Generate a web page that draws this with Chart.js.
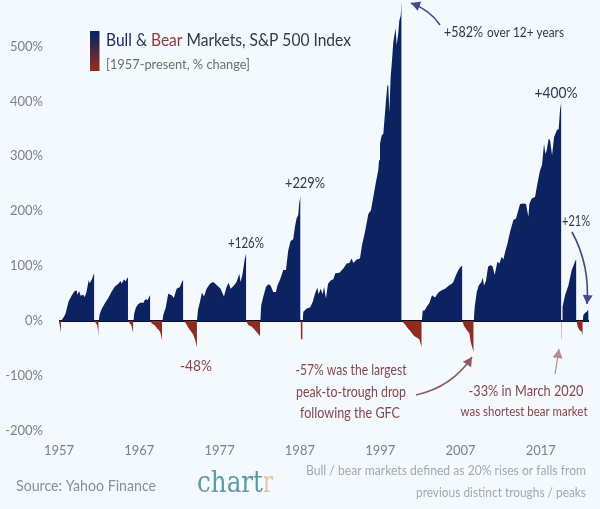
<!DOCTYPE html>
<html>
<head>
<meta charset="utf-8">
<title>Bull & Bear Markets</title>
<script src="https://cdn.jsdelivr.net/npm/chart.js@4/dist/chart.umd.min.js"></script>
<style>
  html, body { margin: 0; padding: 0; background: #f3f9fd; }
  #wrap { width: 600px; height: 509px; }
</style>
</head>
<body>
<div id="wrap"><canvas id="chart" width="600" height="509"></canvas></div>
<script>
// values, one inner list per bull / bear run
const bullYears = [
  [1957.25,1957.5,1957.8,1958.2,1958.6,1958.9,1959.2,1959.3,1959.5,1959.7,1960.0,1960.2,1960.4,1960.7,1960.8,1961.1,1961.3,1961.4],
  [1961.94,1962.06,1962.31,1962.73,1963.14,1963.56,1963.97,1964.39,1964.68,1964.8,1965.09,1965.3,1965.5,1965.59],
  [1966.25,1966.38,1966.58,1966.88,1967.2,1967.5,1967.7,1967.9,1968.04,1968.25,1968.37],
  [1969.86,1970,1970.28,1970.6,1971.03,1971.3,1971.65,1972.06,1972.35,1972.48],
  [1974.18,1974.3,1974.55,1974.8,1975.05,1975.38,1975.8,1976.21,1976.7,1977.12,1977.54,1977.87,1978.12,1978.37,1978.78,1979.11,1979.45,1979.61,1979.86,1980.11,1980.32],
  [1982.06,1982.18,1982.43,1982.77,1983.06,1983.35,1983.68,1984.01,1984.18,1984.59,1984.92,1985.26,1985.55,1985.84,1986.17,1986.38,1986.58,1986.79,1986.91,1987.08],
  [1987.34,1987.43,1987.84,1988.26,1988.59,1988.88,1989.17,1989.33,1989.58,1989.83,1990,1990.25,1990.5,1990.83,1991.16,1991.41,1991.91,1992.41,1992.82,1993.15,1993.44,1993.65,1994.07,1994.48,1994.73,1995.1,1995.52,1995.85,1996.14,1996.47,1996.76,1996.85,1996.97,1997.18,1997.39,1997.59,1997.72,1997.89,1998.01,1998.13,1998.3,1998.47,1998.63,1998.92,1999.05,1999.25,1999.38,1999.55,1999.67],
  [2002.17,2002.29,2002.54,2002.79,2003.12,2003.45,2003.83,2004.24,2004.66,2005.07,2005.49,2005.9,2006.11,2006.44,2006.73,2007.02,2007.23],
  [2008.64,2008.77,2009.02,2009.27,2009.6,2009.76,2009.93,2010.18,2010.43,2010.76,2011.01,2011.26,2011.59,2011.84,2012.13,2012.34,2012.55,2012.84,2013.17,2013.58,2013.91,2014.2,2014.41,2014.83,2015.16,2015.45,2015.57,2015.86,2016.28,2016.57,2016.9,2017.15,2017.4,2017.57,2017.73,2017.98,2018.15,2018.4,2018.65,2018.98,2019.23,2019.39,2019.56],
  [2019.64,2019.68,2019.73,2020.02,2020.43,2020.85,2021.26,2021.43],
  [2022.22,2022.3,2022.5,2022.72,2022.92,2022.96]
];
const bullValues = [
  [0,5,13,36,47,54,56,48,55,46,48,44,51,75,69,76,85,87],
  [0,12,22,33,42,54,63,68,73,68,76,72,79,80],
  [0,15,25,31,34,33,39,40,38,45,48],
  [0,12,24,50,47,42,59,62,73,75],
  [0,20,35,52,45,59,68,71,65,59,45,62,70,59,65,71,86,71,86,111,125],
  [0,29,44,62,67,65,53,53,64,78,93,93,129,146,149,172,187,193,214,229],
  [0,17,23,25,35,50,61,49,59,49,62,41,68,74,76,87,88,96,105,106,114,106,112,114,138,162,195,202,226,253,275,293,323,338,341,378,402,429,429,380,444,475,508,533,502,524,547,556,582],
  [0,19,20,26,33,47,43,52,56,59,64,68,71,84,93,99,101],
  [0,26,53,65,71,79,65,74,99,102,99,84,108,105,117,112,126,141,162,184,187,202,213,214,213,190,213,223,226,250,274,284,323,304,311,332,329,302,335,347,350,384,400],
  [0,17,26,47,65,93,108,114],
  [0,11,15,17,21,21]
];
const bearYears = [
  [1957,1957.1,1957.25],
  [1961.4,1961.6,1961.75,1961.85,1961.94],
  [1965.59,1965.8,1966,1966.1,1966.2,1966.25],
  [1968.37,1968.6,1968.95,1969.2,1969.45,1969.65,1969.86],
  [1972.48,1972.8,1973.1,1973.4,1973.7,1973.97,1974.18],
  [1980.32,1980.57,1980.98,1981.4,1981.69,1982.06],
  [1987.08,1987.12,1987.34],
  [1999.67,2000.09,2000.38,2000.79,2001.21,2001.54,2001.87,2002.17],
  [2007.23,2007.44,2007.77,2008.1,2008.27,2008.64],
  [2019.56,2019.6,2019.64],
  [2021.43,2021.59,2021.8,2022.05,2022.22]
];
const bearValues = [
  [0,-8,-21],
  [0,-4,-7,-16,-29],
  [0,-4,-7,-13,-20,-22],
  [0,-5,-8,-13,-16,-22,-37],
  [0,-4,-12,-18,-24,-35,-48],
  [0,-7,-10,-16,-21,-28],
  [0,-33,-33],
  [0,-6,-12,-19,-27,-30,-33,-48],
  [0,-9,-16,-22,-38,-57],
  [0,-33,-33],
  [0,-10,-16,-19,-25]
];
const baselineYears = [1957, 2023];
const baselineValues = [0, 0];
const xTicks = [1957, 1967, 1977, 1987, 1997, 2007, 2017];
const yTicks = [-200, -100, 0, 100, 200, 300, 400, 500];

const NAVY = '#0d2361';
const RED = '#8e2c20';
const INK = '#2b3a4f';
const ROSE = '#85474c';
const GREY = '#7d8286';
const FONT = 'Lato, sans-serif';

function toPoints(xs, ys) {
  return xs.map((x, i) => ({ x: x, y: ys[i] }));
}

function area(xs, ys, color) {
  return { data: toPoints(xs, ys), fill: 'origin', backgroundColor: color, borderWidth: 0, pointRadius: 0, tension: 0 };
}

const datasets = [];
bullYears.forEach((xs, i) => datasets.push(area(xs, bullValues[i], NAVY)));
bearYears.forEach((xs, i) => datasets.push(area(xs, bearValues[i], RED)));
datasets.push({ data: toPoints(baselineYears, baselineValues), borderColor: '#0b0f1e', borderWidth: 2, pointRadius: 0, fill: false });

// maxW squeezes Lato down to the narrower set width of the original
function text(ctx, str, x, y, color, size, align, maxW) {
  ctx.font = size + 'px ' + FONT;
  ctx.fillStyle = color;
  ctx.textAlign = align || 'left';
  ctx.textBaseline = 'middle';
  if (maxW) ctx.fillText(str, x, y, maxW);
  else ctx.fillText(str, x, y);
}

// left-aligned pieces written one after the other
function runs(ctx, parts, x, y, squeeze) {
  parts.forEach(p => {
    ctx.font = p[2] + 'px ' + FONT;
    const w = ctx.measureText(p[0]).width * squeeze;
    text(ctx, p[0], x, y, p[1], p[2], 'left', w);
    x += w;
  });
}

function arrow(ctx, x0, y0, cx, cy, x1, y1, color, width) {
  ctx.strokeStyle = color;
  ctx.fillStyle = color;
  ctx.lineWidth = width;
  ctx.beginPath();
  ctx.moveTo(x0, y0);
  ctx.quadraticCurveTo(cx, cy, x1, y1);
  ctx.stroke();
  const a = Math.atan2(y1 - cy, x1 - cx);
  const len = 9, half = 5;
  ctx.beginPath();
  ctx.moveTo(x1, y1);
  ctx.lineTo(x1 - len * Math.cos(a) - half * Math.sin(a), y1 - len * Math.sin(a) + half * Math.cos(a));
  ctx.lineTo(x1 - len * Math.cos(a) + half * Math.sin(a), y1 - len * Math.sin(a) - half * Math.cos(a));
  ctx.closePath();
  ctx.fill();
}

const annotations = {
  id: 'annotations',
  afterDraw(chart) {
    const ctx = chart.ctx;
    ctx.save();

    // legend swatch + heading
    const g = ctx.createLinearGradient(0, 31, 0, 71);
    g.addColorStop(0.1, NAVY);
    g.addColorStop(0.9, RED);
    ctx.fillStyle = g;
    ctx.fillRect(90, 31, 9.5, 40);
    runs(ctx, [['Bull', '#1d2a66', 17], [' & ', INK, 17], ['Bear', '#8e3a3c', 17], [' Markets, S&P 500 Index', '#303a48', 17]], 106, 41, 0.915);
    text(ctx, '[1957-present, % change]', 106, 64, '#6f6d70', 14, 'left', 144);

    // peak labels
    text(ctx, '+582%', 444, 32, INK, 15, 'left', 39);
    text(ctx, 'over 12+ years', 487, 33, INK, 13.5, 'left', 77);
    text(ctx, '+400%', 556, 93, INK, 15, 'center', 43);
    text(ctx, '+229%', 305, 183, INK, 15, 'center', 40);
    text(ctx, '+126%', 246, 243, INK, 15, 'center', 36);
    text(ctx, '+21%', 576, 221, INK, 15, 'center', 28);

    // bear notes
    text(ctx, '-48%', 196, 366, ROSE, 15, 'center', 32);
    text(ctx, '-57% was the largest', 351, 370, ROSE, 15, 'center', 111);
    text(ctx, 'peak-to-trough drop', 351, 392, ROSE, 15, 'center', 110);
    text(ctx, 'following the GFC', 350, 413, ROSE, 15, 'center', 100);
    text(ctx, '-33% in March 2020', 526, 391, ROSE, 15, 'center', 115);
    text(ctx, 'was shortest bear market', 524, 412, ROSE, 13.5, 'center', 127);

    arrow(ctx, 440, 25, 430, 10, 411, 3, '#3f4a86', 1.6);
    arrow(ctx, 572, 232, 590, 265, 587, 304, '#3f4a86', 1.6);
    arrow(ctx, 416, 395, 452, 387, 472, 357, '#8e5a5e', 1.6);
    arrow(ctx, 555, 374, 557, 362, 559, 349, '#b08e8e', 1.2);

    // footer
    text(ctx, 'Source: Yahoo Finance', 16, 486, '#8a9094', 15, 'left', 140);
    text(ctx, 'Bull / bear markets defined as 20% rises or falls from', 586, 470, '#a4a9ad', 14, 'right', 280);
    text(ctx, 'previous distinct troughs / peaks', 586, 492, '#a4a9ad', 14, 'right', 170);
    ctx.font = '30px "DejaVu Serif", serif';
    ctx.textAlign = 'left';
    ctx.textBaseline = 'alphabetic';
    const chartW = 66;
    ctx.fillStyle = '#5f9aa9';
    ctx.fillText('chart', 197, 492, chartW);
    ctx.fillStyle = '#e2c7a0';
    ctx.fillText('r', 197 + chartW, 492, 10);

    ctx.restore();
  }
};

new Chart(document.getElementById('chart').getContext('2d'), {
  type: 'line',
  data: { datasets: datasets },
  plugins: [annotations],
  options: {
    responsive: false,
    animation: false,
    layout: { padding: { top: 0, right: 11, bottom: 0, left: 0 } },
    plugins: { legend: { display: false }, tooltip: { enabled: false } },
    scales: {
      x: {
        type: 'linear',
        min: 1957,
        max: 2023,
        afterBuildTicks: axis => { axis.ticks = xTicks.map(v => ({ value: v })); },
        afterFit: axis => { axis.height = 78; axis.paddingLeft = 0; axis.paddingRight = 0; },
        grid: { display: false, drawTicks: false },
        border: { display: false },
        ticks: {
          padding: 12,
          maxRotation: 0,
          autoSkip: false,
          color: GREY,
          font: { family: 'Lato', size: 13 },
          callback: v => String(v)
        }
      },
      y: {
        min: -200,
        max: 584.5,
        afterBuildTicks: axis => { axis.ticks = yTicks.map(v => ({ value: v })); },
        afterFit: axis => { axis.width = 59; axis.paddingTop = 0; axis.paddingBottom = 0; },
        grid: { display: false, drawTicks: false },
        border: { display: false },
        ticks: {
          padding: 16,
          autoSkip: false,
          color: GREY,
          font: { family: 'Lato', size: 13 },
          callback: v => v + '%'
        }
      }
    }
  }
});
</script>
</body>
</html>
